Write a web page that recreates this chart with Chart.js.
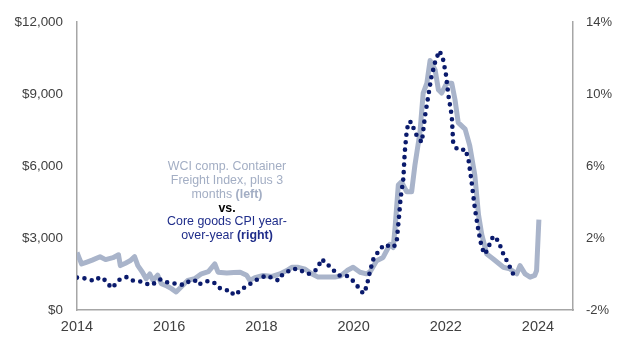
<!DOCTYPE html>
<html>
<head>
<meta charset="utf-8">
<script src="https://cdn.jsdelivr.net/npm/chart.js@4.4.1/dist/chart.umd.min.js"></script>
<style>
  html, body { margin: 0; padding: 0; background: #ffffff; }
  #wrap { width: 624px; height: 342px; }
</style>
</head>
<body>
<div id="wrap"><canvas id="chart" width="624" height="342"></canvas></div>
<script>
// WCI composite container freight index, shifted 3 months (left axis, $)
const wciYears = [
  2014.00, 2014.05, 2014.10, 2014.20, 2014.33, 2014.50, 2014.62, 2014.78, 2014.90, 2014.94,
  2015.05, 2015.15, 2015.25, 2015.32, 2015.42, 2015.50, 2015.58, 2015.65, 2015.75, 2015.83,
  2015.95, 2016.05, 2016.15, 2016.28, 2016.40, 2016.55, 2016.70, 2016.85, 2016.99, 2017.06,
  2017.25, 2017.40, 2017.54, 2017.68, 2017.75, 2017.86, 2018.04, 2018.23, 2018.40, 2018.55,
  2018.66, 2018.80, 2018.95, 2019.09, 2019.23, 2019.45, 2019.59, 2019.72, 2019.86, 2019.99,
  2020.14, 2020.28, 2020.36, 2020.50, 2020.64, 2020.79, 2020.86, 2020.90, 2020.97, 2021.04,
  2021.15, 2021.26, 2021.33, 2021.44, 2021.51, 2021.59, 2021.66, 2021.72, 2021.77, 2021.84,
  2021.91, 2022.02, 2022.13, 2022.20, 2022.27, 2022.42, 2022.52, 2022.63, 2022.71, 2022.78,
  2022.89, 2023.03, 2023.25, 2023.39, 2023.54, 2023.61, 2023.72, 2023.83, 2023.93, 2023.97,
  2024.02
];
const wciValues = [
  2397, 2150, 1918, 1986, 2080, 2219, 2100, 2180, 2302, 1850,
  1950, 2050, 2219, 1850, 1575, 1301, 1500, 1233, 1450, 1096,
  1000, 890, 753, 1000, 1233, 1300, 1508, 1600, 1918, 1575,
  1540, 1560, 1575, 1450, 1233, 1350, 1438, 1400, 1500, 1644,
  1780, 1780, 1700, 1508, 1370, 1370, 1370, 1420, 1644, 1780,
  1575, 1508, 1600, 2055, 2192, 2740, 2603, 3425, 5205, 5343,
  4932, 4932, 6028, 7398, 9042, 9453, 10400, 10200, 10000, 9178,
  9042, 9453, 9453, 8767, 7809, 7535, 6850, 5617, 3973, 3151,
  2330, 2123, 1780, 1712, 1508, 1850, 1508, 1370, 1440, 1644,
  3768
];

// Core goods CPI, year-over-year % (right axis)
const cpiYears = [
  2014.00, 2014.09, 2014.20, 2014.38, 2014.50, 2014.62, 2014.68, 2014.77, 2014.86, 2014.95,
  2015.08, 2015.19, 2015.34, 2015.48, 2015.58, 2015.69, 2015.80, 2015.91, 2016.05, 2016.20,
  2016.34, 2016.45, 2016.56, 2016.63, 2016.74, 2016.85, 2016.96, 2017.11, 2017.22, 2017.33,
  2017.40, 2017.47, 2017.54, 2017.65, 2017.76, 2017.87, 2018.01, 2018.12, 2018.26, 2018.37,
  2018.44, 2018.55, 2018.66, 2018.81, 2018.92, 2019.03, 2019.17, 2019.24, 2019.32, 2019.39,
  2019.46, 2019.57, 2019.68, 2019.84, 2019.96, 2020.07, 2020.21, 2020.28, 2020.36, 2020.43,
  2020.57, 2020.68, 2020.83, 2020.93, 2020.99, 2021.02, 2021.08, 2021.11, 2021.15, 2021.19,
  2021.26, 2021.33, 2021.40, 2021.48, 2021.55, 2021.62, 2021.69, 2021.77, 2021.86, 2021.93,
  2022.00, 2022.06, 2022.13, 2022.16, 2022.24, 2022.34, 2022.42, 2022.49, 2022.56, 2022.63,
  2022.71, 2022.78, 2022.85, 2022.92, 2023.03, 2023.14, 2023.25, 2023.36, 2023.46, 2023.61
];
const cpiValues = [
  -0.20, -0.21, -0.26, -0.39, -0.17, -0.36, -0.58, -0.78, -0.45, -0.26,
  -0.17, -0.36, -0.39, -0.50, -0.63, -0.50, -0.30, -0.45, -0.48, -0.58,
  -0.60, -0.36, -0.36, -0.60, -0.45, -0.39, -0.45, -0.81, -0.90, -0.90,
  -1.18, -1.09, -0.90, -0.72, -0.54, -0.36, -0.18, -0.08, -0.26, -0.36,
  -0.08, 0.10, 0.28, 0.28, 0.10, 0.01, 0.19, 0.47, 0.83, 0.56,
  0.47, 0.19, -0.08, -0.08, -0.30, -0.63, -1.09, -0.72, 0.19, 0.83,
  1.38, 1.65, 1.47, 1.65, 3.30, 4.21, 5.30, 6.77, 7.86, 8.45,
  8.45, 7.86, 7.59, 7.32, 8.78, 9.88, 10.97, 11.79, 12.40, 12.07,
  11.15, 9.88, 8.78, 7.32, 6.95, 6.86, 6.95, 6.40, 5.12, 3.66,
  2.38, 1.47, 1.10, 1.47, 2.11, 1.84, 1.10, 0.56, 0.01, 0.01
];

const xTickYears = [2014, 2016, 2018, 2020, 2022, 2024];

const grayLine = '#a9b4ca';
const navyDots = '#0a1a6c';
const axisText = '#404040';
const axisLine = '#a6a6a6';

// text block in the middle of the chart
const noteLines = [
  [{ t: 'WCI comp. Container', c: '#a3aec4' }],
  [{ t: 'Freight Index, plus 3', c: '#a3aec4' }],
  [{ t: 'months ', c: '#a3aec4' }, { t: '(left)', c: '#a3aec4', b: true }],
  [{ t: 'vs.', c: '#000000', b: true }],
  [{ t: 'Core goods CPI year-', c: '#1f2d8a' }],
  [{ t: 'over-year ', c: '#1f2d8a' }, { t: '(right)', c: '#1f2d8a', b: true }]
];

const notePlugin = {
  id: 'note',
  afterDraw(chart) {
    const ctx = chart.ctx;
    const cx = 227;
    const ys = [167, 181, 195, 209, 222, 236];
    ctx.save();
    ctx.textBaseline = 'middle';
    ctx.textAlign = 'left';
    noteLines.forEach((parts, i) => {
      let total = 0;
      parts.forEach(p => {
        ctx.font = (p.b ? 'bold ' : '') + '12.4px "Liberation Sans", Arial, sans-serif';
        p.w = ctx.measureText(p.t).width;
        total += p.w;
      });
      let x = cx - total / 2;
      parts.forEach(p => {
        ctx.font = (p.b ? 'bold ' : '') + '12.4px "Liberation Sans", Arial, sans-serif';
        ctx.fillStyle = p.c;
        ctx.fillText(p.t, x, ys[i]);
        x += p.w;
      });
    });
    ctx.restore();
  }
};

const wciPoints = wciYears.map((x, i) => ({ x: x, y: wciValues[i] }));
const cpiPoints = cpiYears.map((x, i) => ({ x: x, y: cpiValues[i] }));

new Chart(document.getElementById('chart'), {
  type: 'line',
  data: {
    datasets: [
      {
        label: 'Core goods CPI year-over-year',
        data: cpiPoints,
        yAxisID: 'y1',
        borderColor: navyDots,
        borderWidth: 4.6,
        borderDash: [0, 7.5],
        borderCapStyle: 'round',
        pointRadius: 0,
        tension: 0,
        order: 0
      },
      {
        label: 'WCI comp. Container Freight Index, plus 3 months',
        data: wciPoints,
        yAxisID: 'y',
        borderColor: grayLine,
        borderWidth: 5,
        borderJoinStyle: 'round',
        pointRadius: 0,
        tension: 0,
        order: 1
      }
    ]
  },
  options: {
    responsive: false,
    devicePixelRatio: 1,
    animation: false,
    layout: { padding: { top: 18, left: 0, right: 0, bottom: 0 } },
    plugins: {
      legend: { display: false },
      tooltip: { enabled: false }
    },
    scales: {
      x: {
        type: 'linear',
        min: 2014,
        max: 2024.76,
        grid: { display: false, drawTicks: false },
        border: { display: true, color: axisLine, width: 1.5 },
        afterBuildTicks: scale => { scale.ticks = xTickYears.map(v => ({ value: v })); },
        afterFit: scale => { scale.height = 32; },
        ticks: {
          padding: 8,
          maxRotation: 0,
          color: axisText,
          font: { family: '"Liberation Sans", Arial, sans-serif', size: 14.5 },
          callback: v => String(v)
        }
      },
      y: {
        position: 'left',
        min: 0,
        max: 12000,
        grid: { display: false, drawTicks: false },
        border: { display: true, color: axisLine, width: 1.5 },
        afterFit: scale => { scale.width = 77; },
        ticks: {
          stepSize: 3000,
          padding: 14,
          color: axisText,
          font: { family: '"Liberation Sans", Arial, sans-serif', size: 13.4 },
          callback: v => '$' + v.toLocaleString('en-US')
        }
      },
      y1: {
        position: 'right',
        min: -2,
        max: 14,
        grid: { display: false, drawTicks: false },
        border: { display: true, color: axisLine, width: 1.5 },
        afterFit: scale => { scale.width = 51; },
        ticks: {
          stepSize: 4,
          padding: 13,
          color: axisText,
          font: { family: '"Liberation Sans", Arial, sans-serif', size: 13 },
          callback: v => v + '%'
        }
      }
    }
  },
  plugins: [notePlugin]
});
</script>
</body>
</html>
